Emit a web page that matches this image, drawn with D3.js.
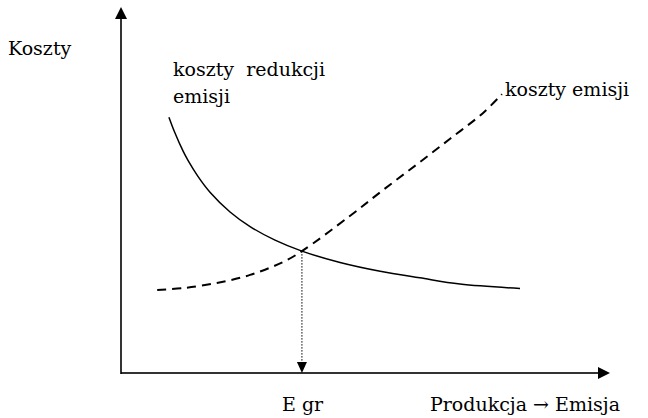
<!DOCTYPE html>
<html>
<head>
<meta charset="utf-8">
<script src="https://cdn.jsdelivr.net/npm/d3@7"></script>
</head>
<body style="margin:0">
<svg width="648" height="418"></svg>
<script>
// DATA (arbitrary units 0..10)
const reductionX = [0.98, 1.10, 1.27, 1.37, 1.57, 1.82, 2.23, 2.64, 3.15, 3.70, 4.48, 5.30, 6.11, 6.93, 8.16];
const reductionY = [6.99, 6.57, 6.06, 5.81, 5.38, 4.94, 4.40, 4.00, 3.63, 3.33, 3.02, 2.78, 2.60, 2.43, 2.31];
const emissionX = [0.74, 1.27, 1.96, 2.64, 3.31, 3.70, 4.68, 5.36, 6.05, 6.73, 7.40, 7.79];
const emissionY = [2.27, 2.32, 2.46, 2.68, 3.03, 3.33, 4.29, 5.00, 5.70, 6.40, 7.10, 7.62];
const equilibrium = [3.70, 3.33];
const labels = {
  yAxis: "Koszty",
  xAxis: "Produkcja \u2192 Emisja",
  eq: "E gr",
  reduction: ["koszty  redukcji", "emisji"],
  emission: "koszty emisji"
};

// SETUP
const svg = d3.select("svg");
const x = d3.scaleLinear().domain([0, 10]).range([121, 610]);
const y = d3.scaleLinear().domain([0, 10]).range([373, 7]);

const line = d3.line()
  .x(d => x(d[0]))
  .y(d => y(d[1]))
  .curve(d3.curveCatmullRom.alpha(0.5));

// axes
svg.append("line")
  .attr("x1", x(0)).attr("y1", y(0))
  .attr("x2", x(10) - 10).attr("y2", y(0))
  .attr("stroke", "#333").attr("stroke-width", 2);
svg.append("path")
  .attr("d", `M${x(10)},${y(0)} L${x(10) - 12},${y(0) - 6} L${x(10) - 12},${y(0) + 6} Z`)
  .attr("fill", "#000");

svg.append("line")
  .attr("x1", x(0)).attr("y1", y(0) + 1)
  .attr("x2", x(0)).attr("y2", y(10) + 10)
  .attr("stroke", "#000").attr("stroke-width", 1.6);
svg.append("path")
  .attr("d", `M${x(0)},${y(10)} L${x(0) - 6},${y(10) + 12} L${x(0) + 6},${y(10) + 12} Z`)
  .attr("fill", "#000");

// curves
svg.append("path")
  .datum(d3.zip(reductionX, reductionY))
  .attr("d", line)
  .attr("fill", "none")
  .attr("stroke", "#000")
  .attr("stroke-width", 1.5);

svg.append("path")
  .datum(d3.zip(emissionX, emissionY))
  .attr("d", line)
  .attr("fill", "none")
  .attr("stroke", "#000")
  .attr("stroke-width", 2)
  .attr("stroke-dasharray", "9,6");

// equilibrium drop line
svg.append("line")
  .attr("x1", x(equilibrium[0])).attr("y1", y(equilibrium[1]))
  .attr("x2", x(equilibrium[0])).attr("y2", y(0) - 10)
  .attr("stroke", "#000").attr("stroke-width", 1)
  .attr("stroke-dasharray", "1.5,1.5");
svg.append("path")
  .attr("d", `M${x(equilibrium[0])},${y(0)} L${x(equilibrium[0]) - 5},${y(0) - 11} L${x(equilibrium[0]) + 5},${y(0) - 11} Z`)
  .attr("fill", "#000");

// texts
function label(tx, ty, str) {
  const t = svg.append("text")
    .attr("x", tx).attr("y", ty)
    .attr("font-family", "DejaVu Serif")
    .attr("font-size", 19)
    .text(str);
  t.node().getComputedTextLength();
  return t;
}
label(8, 55, labels.yAxis);
label(430, 411, labels.xAxis);
label(282, 411, labels.eq);
label(505, 96, labels.emission);
label(173, 76, labels.reduction[0]).attr("xml:space", "preserve");
label(173, 103, labels.reduction[1]);
</script>
</body>
</html>
